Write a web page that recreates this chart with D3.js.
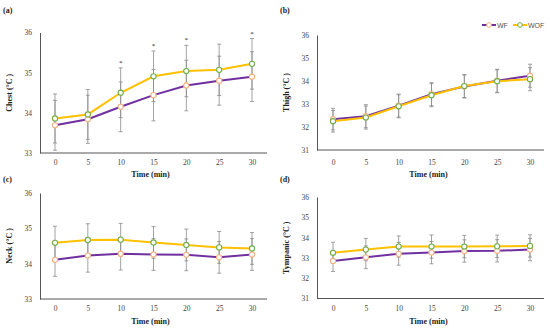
<!DOCTYPE html>
<html><head><meta charset="utf-8">
<script src="https://cdn.jsdelivr.net/npm/d3@7"></script>
<style>
body{margin:0;background:#fff;}
svg{display:block;}
text{font-family:"Liberation Serif","DejaVu Serif",serif;}
</style></head>
<body><svg id="c" width="550" height="328"></svg>
<script>
const times = ["0","5","10","15","20","25","30"];
const seriesNames = ["WF","WOF"];
// panel (a) Chest
const chestWF  = [33.69,33.84,34.15,34.44,34.68,34.80,34.90];
const chestWOF = [33.86,33.96,34.50,34.91,35.04,35.07,35.22];
const chestWFsd  = [0.62,0.60,0.62,0.64,0.63,0.61,0.62];
const chestWOFsd = [0.61,0.62,0.62,0.63,0.64,0.64,0.63];
const chestSig = ["10","15","20","30"];
// panel (b) Thigh
const thighWF  = [32.34,32.47,32.93,33.43,33.76,34.01,34.23];
const thighWOF = [32.25,32.41,32.90,33.38,33.78,33.99,34.08];
const thighWFsd  = [0.47,0.50,0.50,0.50,0.50,0.50,0.50];
const thighWOFsd = [0.47,0.50,0.50,0.50,0.50,0.50,0.50];
// panel (c) Neck
const neckWF  = [34.11,34.23,34.28,34.26,34.25,34.18,34.26];
const neckWOF = [34.59,34.67,34.68,34.60,34.53,34.46,34.43];
const neckWFsd  = [0.47,0.47,0.46,0.45,0.45,0.45,0.45];
const neckWOFsd = [0.47,0.46,0.46,0.45,0.45,0.45,0.45];
// panel (d) Tympanic
const tympWF  = [32.85,33.03,33.20,33.26,33.34,33.35,33.41];
const tympWOF = [33.25,33.41,33.56,33.56,33.56,33.57,33.59];
const tympWFsd  = [0.52,0.56,0.56,0.55,0.55,0.55,0.55];
const tympWOFsd = [0.52,0.55,0.52,0.57,0.55,0.55,0.55];
const chestTicks = [33,34,35,36];
const thighTicks = [31,32,33,34,35,36];
const neckTicks = [33,34,35,36];
const tympTicks = [31,32,33,34,35,36];

const colWF = "#7030A0", colWOF = "#FFC000";
const mkWF = "#F4B183", mkWOF = "#70AD47";
const grey = "#8c8c8c";

const svg = d3.select("#c");

const panels = [
  {tag:"(a)", title:"Chest (°C )", wf:chestWF, wof:chestWOF, wfsd:chestWFsd, wofsd:chestWOFsd, ticks:chestTicks, sig:chestSig,
   ax:40, axEnd:267, x0:55, x1:252, yTop:32.5, yBot:153, tagY:13, tickY:165, timeY:177, titleX:12, legend:false},
  {tag:"(b)", title:"Thigh (°C )", wf:thighWF, wof:thighWOF, wfsd:thighWFsd, wofsd:thighWOFsd, ticks:thighTicks, sig:[],
   ax:317, axEnd:544, x0:333, x1:530, yTop:35, yBot:150, tagY:13, tickY:165, timeY:177, titleX:289, legend:true},
  {tag:"(c)", title:"Neck (°C )", wf:neckWF, wof:neckWOF, wfsd:neckWFsd, wofsd:neckWOFsd, ticks:neckTicks, sig:[],
   ax:40, axEnd:267, x0:55, x1:252, yTop:193, yBot:299, tagY:182, tickY:311, timeY:324, titleX:12, legend:false},
  {tag:"(d)", title:"Tympanic (°C )", wf:tympWF, wof:tympWOF, wfsd:tympWFsd, wofsd:tympWOFsd, ticks:tympTicks, sig:[],
   ax:317, axEnd:544, x0:333, x1:530, yTop:197, yBot:298.5, tagY:182, tickY:311, timeY:324, titleX:289, legend:false}
];

panels.forEach(p => {
  const g = svg.append("g");
  const x = d3.scalePoint().domain(times).range([p.x0, p.x1]);
  const y = d3.scaleLinear().domain([d3.min(p.ticks), d3.max(p.ticks)]).range([p.yBot, p.yTop]);

  g.append("text").attr("x", p.ax - 37).attr("y", p.tagY).attr("font-size", 8).attr("font-weight","bold").attr("fill","#222").text(p.tag);

  const yAxis = d3.axisLeft(y).tickValues(p.ticks).tickSize(0).tickPadding(8).tickFormat(d3.format("d"));
  const ya = g.append("g").attr("transform", `translate(${p.ax},0)`).call(yAxis);
  ya.select(".domain").attr("stroke", "#555").attr("stroke-width", 1);
  ya.selectAll("text").attr("font-size", 7.5).attr("fill", "#444");

  const xa = g.append("g").attr("transform", `translate(0,${p.yBot})`).call(d3.axisBottom(x).tickSize(0).tickPadding(0));
  xa.select(".domain").remove();
  xa.selectAll("text").attr("font-size", 7.5).attr("fill", "#444").attr("dy", null).attr("y", p.tickY - p.yBot);
  g.append("line").attr("x1", p.ax).attr("x2", p.axEnd).attr("y1", p.yBot).attr("y2", p.yBot).attr("stroke", "#555").attr("stroke-width", 1);

  g.append("text").attr("x", (p.x0 + p.x1)/2 - 3).attr("y", p.timeY).attr("text-anchor","middle")
    .attr("font-size", 8).attr("font-weight","bold").attr("fill","#222").text("Time (min)");
  g.append("text").attr("transform", `translate(${p.titleX},${(p.yTop + p.yBot)/2}) rotate(-90)`).attr("text-anchor","middle")
    .attr("font-size", 8).attr("font-weight","bold").attr("fill","#222").text(p.title);

  const series = [
    {vals:p.wf, sd:p.wfsd, line:colWF, mk:mkWF},
    {vals:p.wof, sd:p.wofsd, line:colWOF, mk:mkWOF}
  ];
  series.forEach(s => {
    times.forEach((t,i) => {
      const cx = x(t), hi = y(s.vals[i] + s.sd[i]), lo = y(s.vals[i] - s.sd[i]);
      g.append("line").attr("x1",cx).attr("x2",cx).attr("y1",hi).attr("y2",lo).attr("stroke",grey).attr("stroke-width",0.8);
      [hi,lo].forEach(yy => g.append("line").attr("x1",cx-2).attr("x2",cx+2).attr("y1",yy).attr("y2",yy).attr("stroke",grey).attr("stroke-width",0.8));
    });
  });
  const line = d3.line().x((d,i) => x(times[i])).y(d => y(d));
  series.forEach(s => {
    g.append("path").datum(s.vals).attr("d", line).attr("fill","none").attr("stroke", s.line).attr("stroke-width", 2);
  });
  series.forEach(s => {
    g.selectAll(null).data(s.vals).enter().append("circle")
      .attr("cx", (d,i) => x(times[i])).attr("cy", d => y(d)).attr("r", 2.6)
      .attr("fill", "#fff").attr("stroke", s.mk).attr("stroke-width", 1.1);
  });
  p.sig.forEach(t => {
    const i = times.indexOf(t);
    const top = Math.min(y(p.wof[i] + p.wofsd[i]), y(p.wf[i] + p.wfsd[i]));
    g.append("text").attr("x", x(t)).attr("y", top - 3).attr("text-anchor","middle").attr("font-size", 7).attr("fill","#222").text("*");
  });

  if (p.legend) {
    const lg = g.append("g");
    const items = [{name:seriesNames[0], line:colWF, mk:mkWF, x:482, w:14},{name:seriesNames[1], line:colWOF, mk:mkWOF, x:513, w:14}];
    items.forEach(it => {
      lg.append("line").attr("x1", it.x).attr("x2", it.x + it.w).attr("y1", 25).attr("y2", 25).attr("stroke", it.line).attr("stroke-width", 2);
      lg.append("circle").attr("cx", it.x + it.w/2).attr("cy", 25).attr("r", 2.3).attr("fill","#fff").attr("stroke", it.mk).attr("stroke-width",1);
      lg.append("text").attr("x", it.x + it.w + 1).attr("y", 27.5).attr("font-size", 7).attr("fill","#555")
        .style("font-family","'Liberation Sans', Arial, sans-serif").text(it.name);
    });
  }
});
</script></body></html>
